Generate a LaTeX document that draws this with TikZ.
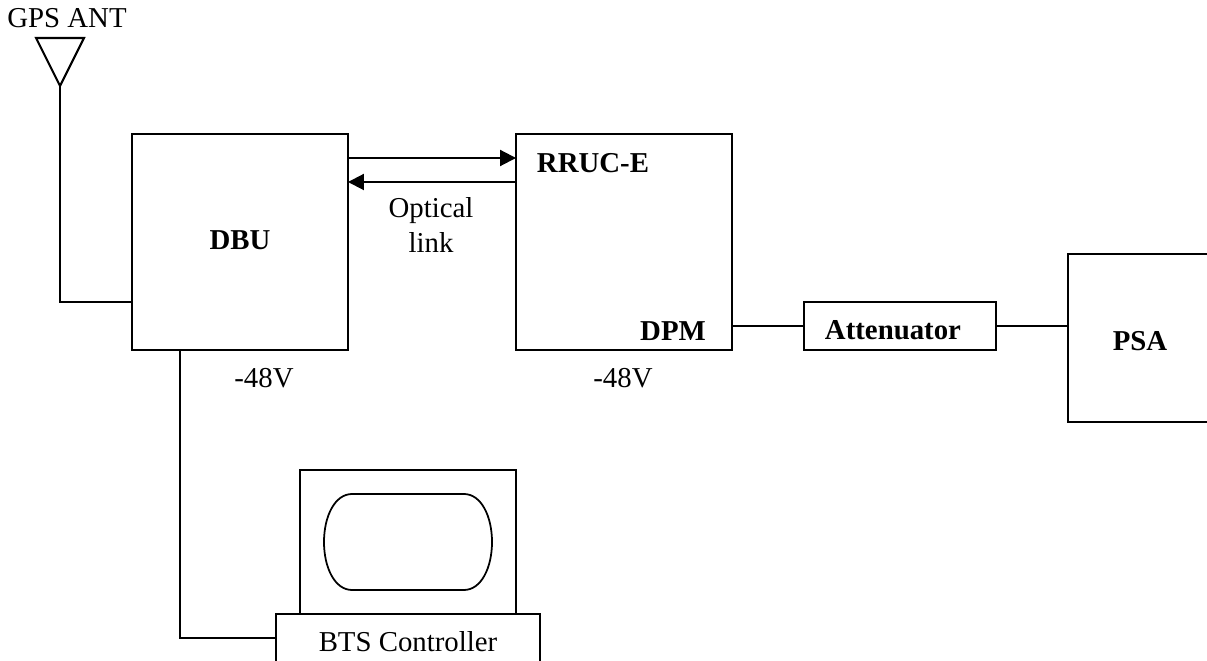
\documentclass[tikz,border=0pt]{standalone}
\usepackage{fontspec}
\setmainfont{Liberation Serif}
\usetikzlibrary{arrows.meta}
\tikzset{
  bx/.style={draw,line width=1.15pt,inner sep=0pt,outer sep=0pt,fill=white,minimum width=#1},
  lbl/.style={inner sep=0pt,font=\fontsize{16.4}{19.7}\selectfont,align=center},
  blbl/.style={lbl,font=\fontsize{16.4}{19.7}\selectfont\bfseries},
  wire/.style={line width=1.15pt},
  flow/.style={-{Triangle[length=3.2mm,width=3.2mm]},line width=1.15pt},
}
\begin{document}
\begin{tikzpicture}[x=0.02cm,y=-0.02cm]
\useasboundingbox (0,0) rectangle (1207,661);
\node[bx=4.32cm,minimum height=4.32cm] (dbu) at (240,242) {};
\node[bx=4.32cm,minimum height=4.32cm] (rruc) at (624,242) {};
\node[bx=3.84cm,minimum height=0.96cm] (att) at (900,326) {};
\node[bx=2.96cm,minimum height=3.36cm] (psa) at (1142,338) {};
\node[bx=4.32cm,minimum height=2.88cm] (mon) at (408,542) {};
\draw[line width=1pt] (352,494) -- (464,494) .. controls (481,494) and (492,516) .. (492,542)
  .. controls (492,568) and (481,590) .. (464,590) -- (352,590)
  .. controls (335,590) and (324,568) .. (324,542) .. controls (324,516) and (335,494) .. (352,494) -- cycle;
\node[bx=5.28cm,minimum height=1.12cm] (bts) at (408,642) {};
\coordinate (anttip) at (60,86);
\draw[wire,line join=miter] (36,38) -- (84,38) -- (anttip) -- cycle;
\node[lbl] (gps) at (67,18) {GPS ANT};
\node[blbl] (dbulbl) at (240,240) {DBU};
\node[blbl] (rruclbl) at (593,163) {RRUC-E};
\node[blbl] (dpm) at (673,331) {DPM};
\node[blbl] (attlbl) at (893,330) {Attenuator};
\node[blbl] (psalbl) at (1140,341) {PSA};
\node[lbl] (optical) at (431,225) {Optical\\link};
\node[lbl] (vdbu) at (264,378) {-48V};
\node[lbl] (vrruc) at (623,378) {-48V};
\node[lbl] (btslbl) at (408,642) {BTS Controller};
\draw[wire] (anttip) |- (dbu.west |- 0,302);
\draw[flow] (dbu.east |- 0,158) -- (rruc.west |- 0,158);
\draw[flow] (rruc.west |- 0,182) -- (dbu.east |- 0,182);
\draw[wire] (rruc.east |- att.west) -- (att.west);
\draw[wire] (att.east) -- (psa.west |- att.east);
\draw[wire] (180,350) |- (bts.west |- 0,638);
\end{tikzpicture}
\end{document}
